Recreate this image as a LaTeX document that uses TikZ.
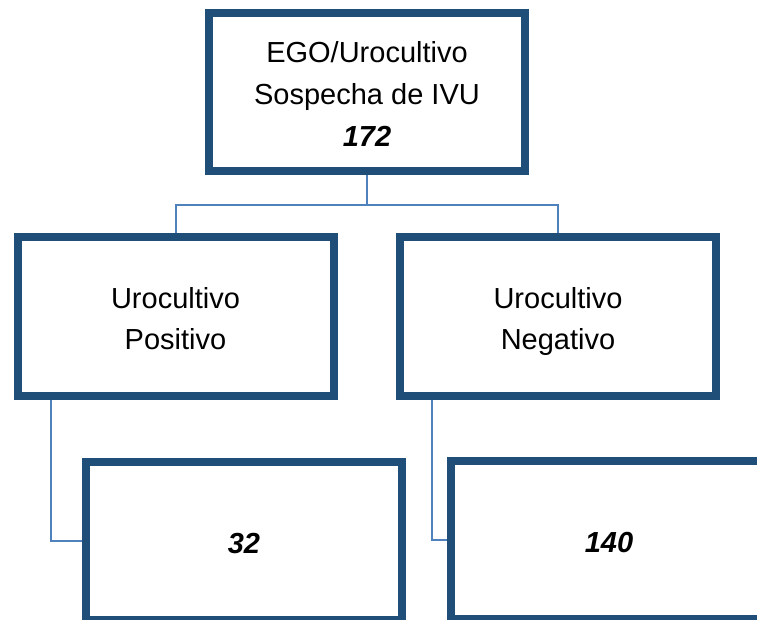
\documentclass[tikz,border=0pt]{standalone}
\usepackage{fontspec}
\setmainfont{Liberation Sans}
\usepackage{tikz}
\usetikzlibrary{positioning}
\definecolor{boxblue}{HTML}{1F4E79}
\definecolor{linkblue}{HTML}{4F81BD}
\newcommand{\lnstrut}{\rule[-8.5pt]{0pt}{41.7pt}}

\begin{document}
\begin{tikzpicture}[x=1pt,y=1pt,
    box/.style={draw=boxblue,line width=8pt,fill=white,minimum width=316pt,minimum height=158pt,
      align=center,font=\fontsize{29}{41.7}\selectfont,inner sep=0pt},
    link/.style={draw=linkblue,line width=2pt}]
      \useasboundingbox (0,0) rectangle (757,-620);
      \clip (0,0) rectangle (757,-620);
      \coordinate (top) at (367,-92);
      \coordinate (posit) at (175.5,-316.5);
      \coordinate (negat) at (558,-316.5);
      \node[box] (ego) at (top) {\lnstrut EGO/Urocultivo\\\lnstrut Sospecha de IVU\\\lnstrut\textbf{\textit{172}}};
      \node[box] (pos) at (posit) {\lnstrut Urocultivo\\\lnstrut Positivo};
      \node[box] (neg) at (negat) {\lnstrut Urocultivo\\\lnstrut Negativo};
      \node[box] (n32) at (244,-541) {\lnstrut\textbf{\textit{32}}};
      \node[box] (n140) at (609,-540) {\lnstrut\textbf{\textit{140}}};
      % links
      \draw[link] (ego.south) -- ++(0,-30) coordinate (bar) -| (pos.north);
      \draw[link] (bar) -| (neg.north);
      \draw[link] ([xshift=37pt]pos.south west) |- (n32.west);
      \draw[link] ([xshift=36pt]neg.south west) |- (n140.west);
    \end{tikzpicture}
\end{document}
